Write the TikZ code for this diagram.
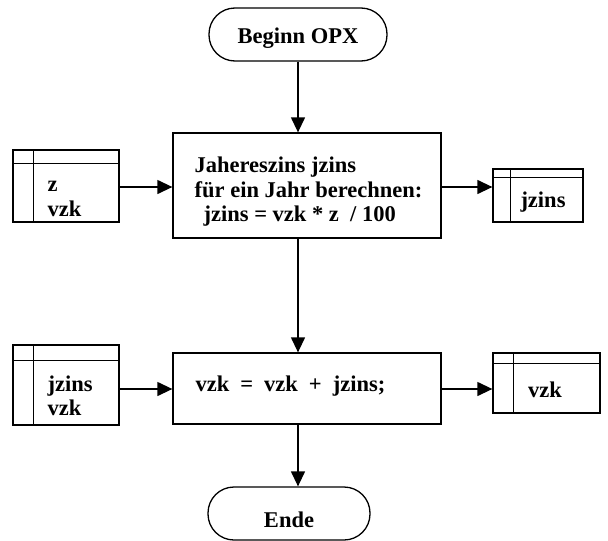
\documentclass[tikz,border=0pt]{standalone}
\usepackage{fontspec}
\setmainfont{Liberation Serif}
\usetikzlibrary{arrows.meta,calc}
\begin{document}
\begin{tikzpicture}[x=1pt,y=-1pt,
  line width=1.3pt,
  every node/.style={font=\fontsize{22.5}{24.5}\selectfont\bfseries},
  terminal/.style={draw,rectangle,rounded corners=26pt,minimum height=53pt,inner sep=0pt},
  procbox/.style={draw,rectangle,inner sep=0pt},
  store/.style={draw,rectangle,inner sep=0pt},
  flow/.style={-{Triangle[length=15pt,width=14pt]}},
  txt/.style={inner sep=0pt,anchor=west,align=left}
]
\useasboundingbox (0,0) rectangle (608,541);

% terminals
\node[terminal,minimum width=178pt] (begin) at (298,34.5) {};
\node[inner sep=0pt] (begintxt) at (298,38) {Beginn OPX};
\node[terminal,minimum width=162pt] (ende) at (289,513.5) {};
\node[inner sep=0pt] (endetxt) at (289,520) {Ende};

% process boxes
\node[procbox,minimum width=268pt,minimum height=105pt] (box1) at (307,185.5) {};
\node[txt] (box1txt) at (194,192) {Jahereszins jzins\\für ein Jahr berechnen:\\\hspace*{9pt}jzins = vzk * z \ / 100};
\node[procbox,minimum width=268pt,minimum height=71pt] (box2) at (307,388.5) {};
\node[txt] (box2txt) at (195,386) {vzk\hspace{11pt}=\hspace{11pt}vzk\hspace{11pt}+\hspace{11pt}jzins;};

% data stores
\node[store,minimum width=106pt,minimum height=72pt] (s1) at (66,186) {};
\draw ([xshift=21pt]s1.north west) -- ([xshift=21pt]s1.south west);
\draw ([yshift=-14pt]s1.north west) -- ([yshift=-14pt]s1.north east);
\node[txt] (s1txt) at (47,199) {z\\vzk};

\node[store,minimum width=90pt,minimum height=53pt] (r1) at (538,195.5) {};
\draw ([xshift=18pt]r1.north west) -- ([xshift=18pt]r1.south west);
\draw ([yshift=-9pt]r1.north west) -- ([yshift=-9pt]r1.north east);
\node[inner sep=0pt] (r1txt) at (543,202) {jzins};

\node[store,minimum width=106pt,minimum height=80pt] (s2) at (66,385) {};
\draw ([xshift=21pt]s2.north west) -- ([xshift=21pt]s2.south west);
\draw ([yshift=-16pt]s2.north west) -- ([yshift=-16pt]s2.north east);
\node[txt] (s2txt) at (47,396) {jzins\\vzk};

\node[store,minimum width=107pt,minimum height=60pt] (r2) at (546.5,383) {};
\draw ([xshift=21pt]r2.north west) -- ([xshift=21pt]r2.south west);
\draw ([yshift=-11pt]r2.north west) -- ([yshift=-11pt]r2.north east);
\node[inner sep=0pt] (r2txt) at (545,390) {vzk};

% control flow
\draw[flow] (begin.south) -- (begin.south |- box1.north);
\draw[flow] (begin.south |- box1.south) -- (begin.south |- box2.north);
\draw[flow] (begin.south |- box2.south) -- (begin.south |- ende.north);

% data flow
\coordinate (y1) at (0,187);
\coordinate (y2) at (0,389);
\draw[flow] (s1.east |- y1) -- (box1.west |- y1);
\draw[flow] (box1.east |- y1) -- (r1.west |- y1);
\draw[flow] (s2.east |- y2) -- (box2.west |- y2);
\draw[flow] (box2.east |- y2) -- (r2.west |- y2);
\end{tikzpicture}
\end{document}
